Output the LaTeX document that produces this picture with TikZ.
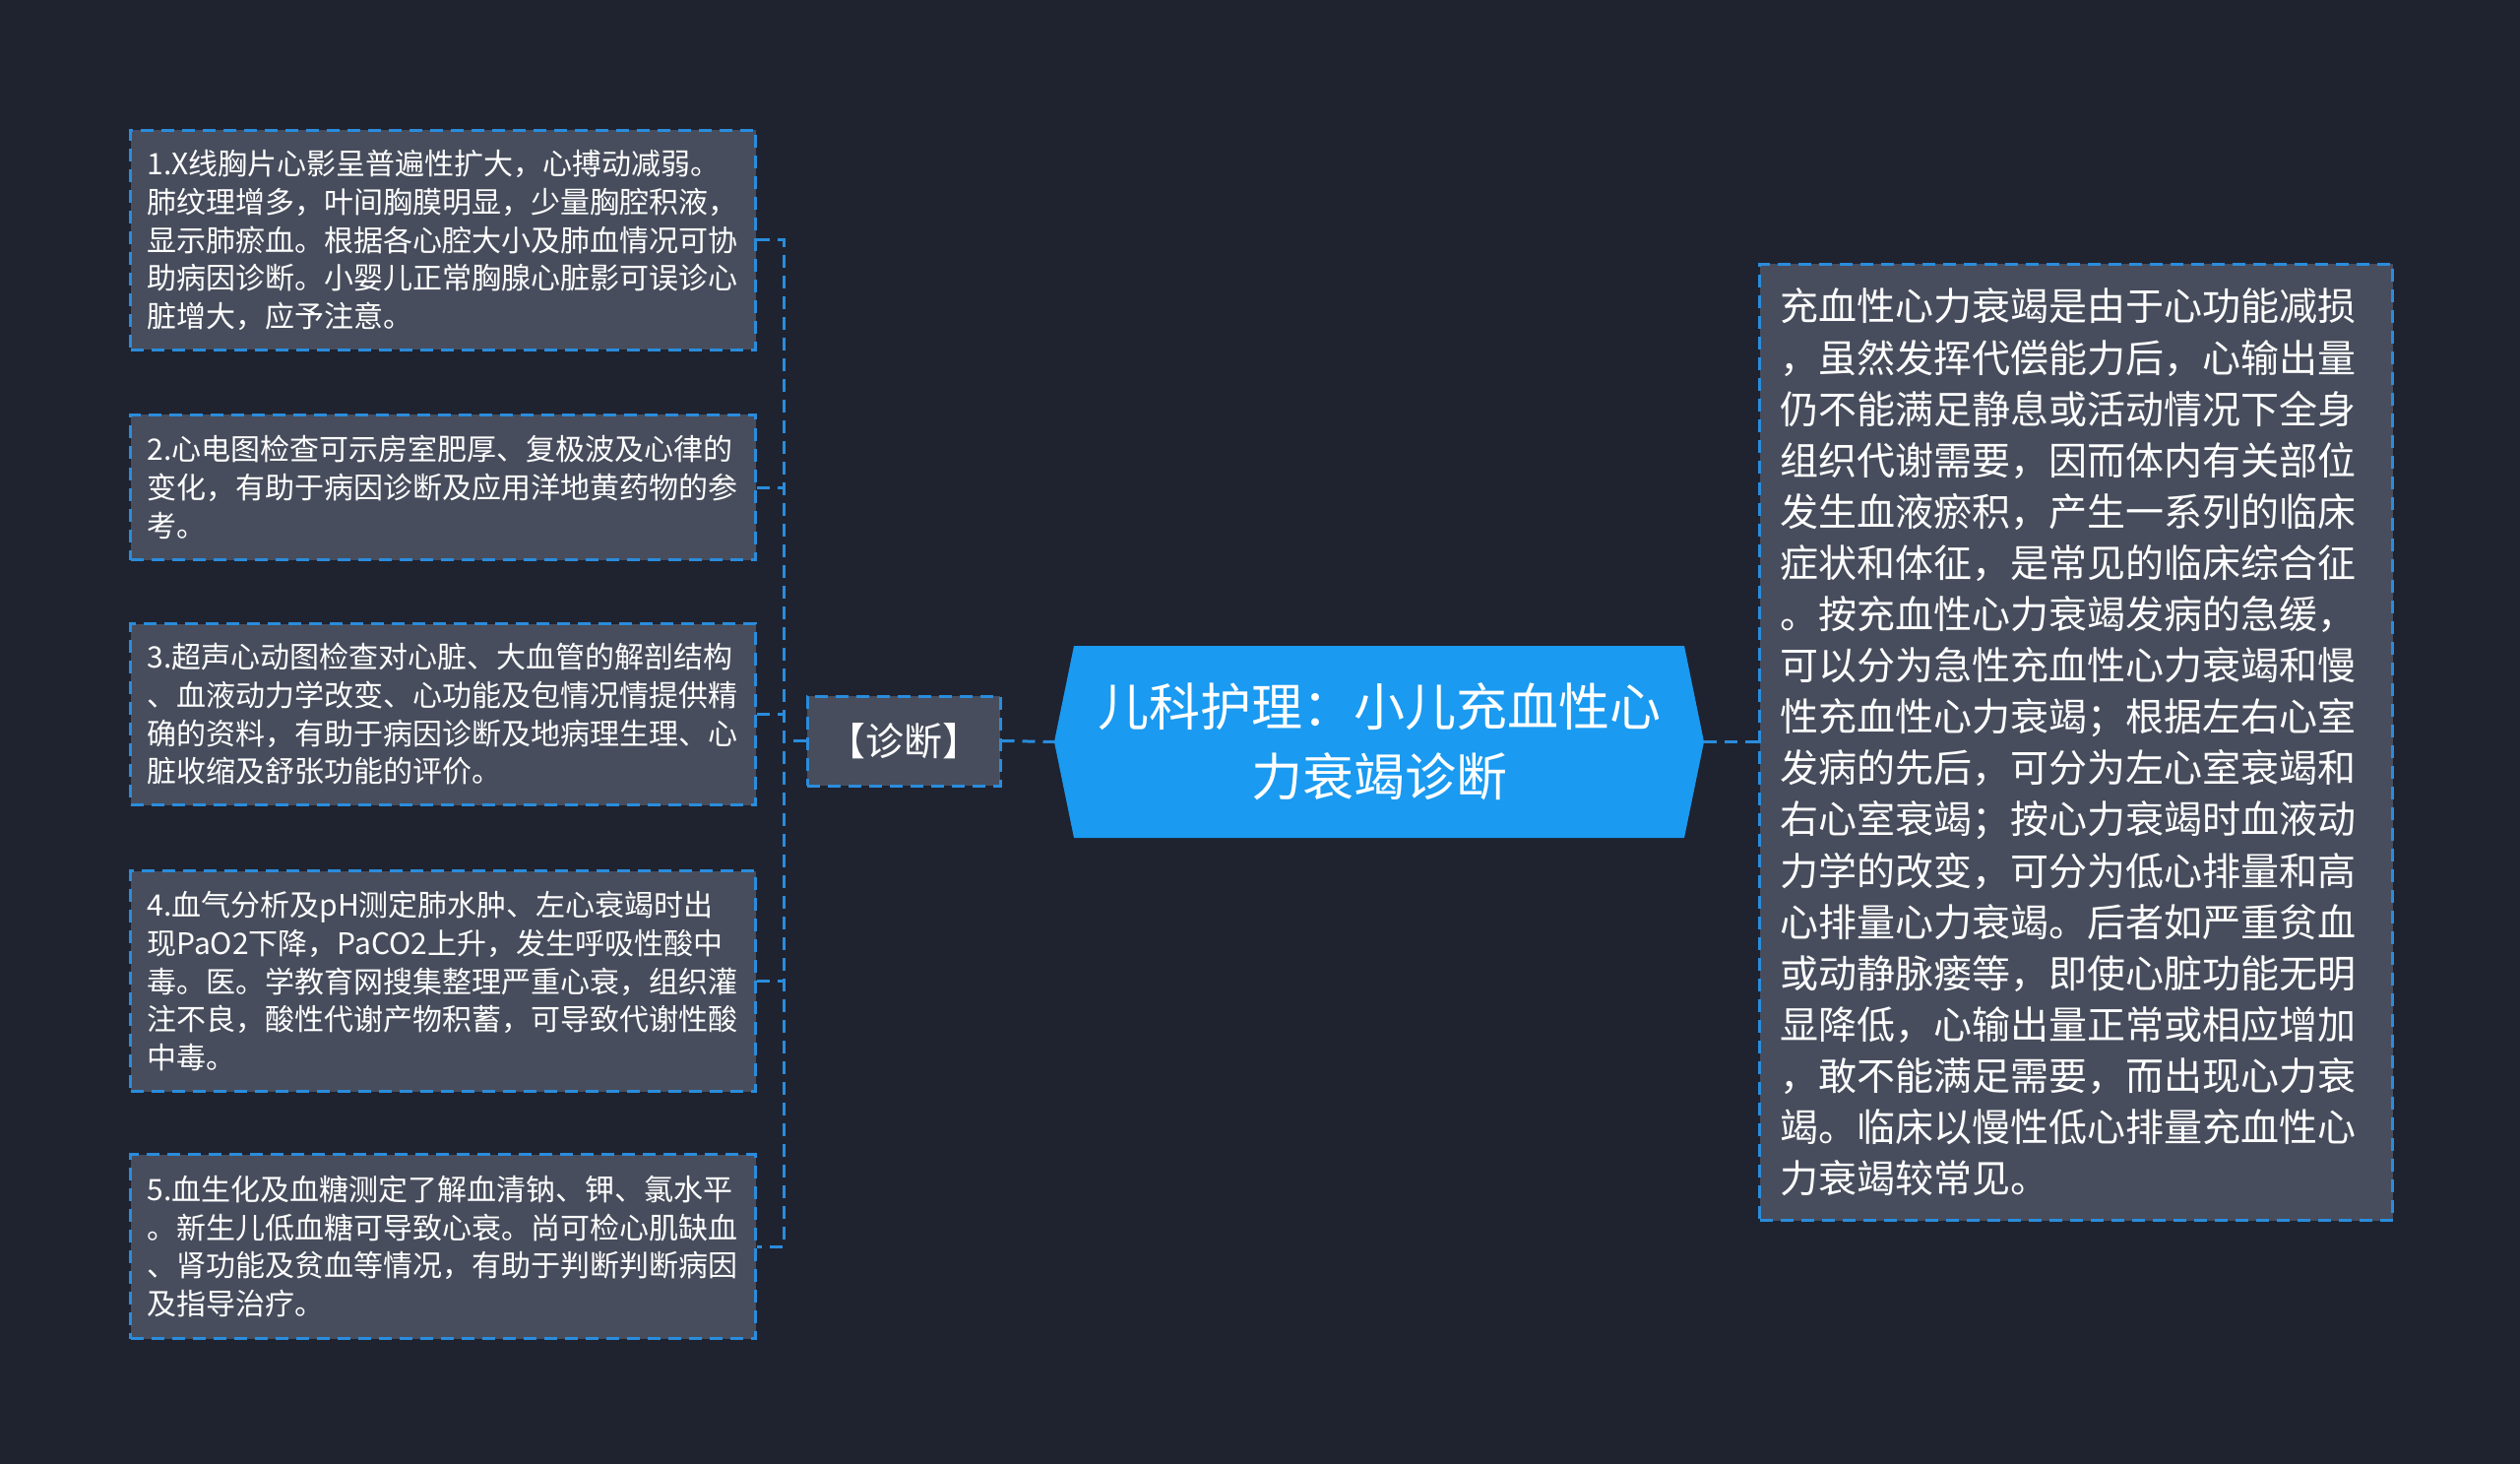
\documentclass[tikz,border=0pt]{standalone}
\usepackage{fontspec}
\setmainfont{Noto Sans CJK SC}
\definecolor{bgc}{HTML}{1F2330}
\definecolor{boxc}{HTML}{474D5C}
\definecolor{linec}{HTML}{2A8CDC}
\definecolor{mainc}{HTML}{1A9AF0}
\tikzset{
  conn/.style={draw=linec, line width=3pt, dash pattern=on 13pt off 8pt},
  leaf/.style={draw=linec, fill=boxc, line width=3pt, dash pattern=on 13pt off 8pt,
    text=white, align=left, text width=601pt, inner xsep=17pt, inner ysep=0pt,
    anchor=north west, font=\fontsize{30pt}{38.7pt}\selectfont},
  diag/.style={draw=linec, fill=boxc, line width=3pt, dash pattern=on 13pt off 8pt,
    text=white, minimum width=196pt, minimum height=91pt, inner sep=0pt,
    font=\fontsize{39pt}{46pt}\selectfont},
  rbox/.style={draw=linec, fill=boxc, line width=3pt, dash pattern=on 13pt off 8pt,
    text=white, align=left, text width=601pt, inner xsep=21pt, inner ysep=0pt,
    anchor=north west, font=\fontsize{39pt}{52.1pt}\selectfont},
}
\begin{document}
\begin{tikzpicture}[x=1pt,y=-1pt]
\useasboundingbox (0,0) rectangle (2560,1487);
\fill[bgc] (0,0) rectangle (2560,1487);

% left boxes
\node[leaf, minimum height=223pt] (b1) at (131,131) {1.X线胸片心影呈普遍性扩大，心搏动减弱。\\肺纹理增多，叶间胸膜明显，少量胸腔积液，\\显示肺瘀血。根据各心腔大小及肺血情况可协\\助病因诊断。小婴儿正常胸腺心脏影可误诊心\\脏增大，应予注意。};
\node[leaf, minimum height=147pt] (b2) at (131,420) {2.心电图检查可示房室肥厚、复极波及心律的\\变化，有助于病因诊断及应用洋地黄药物的参\\考。};
\node[leaf, minimum height=184pt] (b3) at (131,632) {3.超声心动图检查对心脏、大血管的解剖结构\\、血液动力学改变、心功能及包情况情提供精\\确的资料，有助于病因诊断及地病理生理、心\\脏收缩及舒张功能的评价。};
\node[leaf, minimum height=224pt] (b4) at (131,883) {4.血气分析及pH测定肺水肿、左心衰竭时出\\现PaO2下降，PaCO2上升，发生呼吸性酸中\\毒。医。学教育网搜集整理严重心衰，组织灌\\注不良，酸性代谢产物积蓄，可导致代谢性酸\\中毒。};
\node[leaf, minimum height=187pt] (b5) at (131,1171) {5.血生化及血糖测定了解血清钠、钾、氯水平\\。新生儿低血糖可导致心衰。尚可检心肌缺血\\、肾功能及贫血等情况，有助于判断判断病因\\及指导治疗。};

% diagnosis node
\node[diag] (d) at (918,752.5) {【诊断】};

% center node
\fill[mainc] (1071,753.5) -- (1091,656) -- (1711,656) -- (1731,753.5) -- (1711,851) -- (1091,851) -- cycle;
\node[minimum width=660pt, minimum height=195pt, inner sep=0pt, text=white, align=center,
  font=\fontsize{52pt}{71pt}\selectfont] (c) at (1401,753.5) {儿科护理：小儿充血性心\\力衰竭诊断};

% right box
\node[rbox, minimum height=971pt] (r) at (1786,267) {充血性心力衰竭是由于心功能减损\\，虽然发挥代偿能力后，心输出量\\仍不能满足静息或活动情况下全身\\组织代谢需要，因而体内有关部位\\发生血液瘀积，产生一系列的临床\\症状和体征，是常见的临床综合征\\。按充血性心力衰竭发病的急缓，\\可以分为急性充血性心力衰竭和慢\\性充血性心力衰竭；根据左右心室\\发病的先后，可分为左心室衰竭和\\右心室衰竭；按心力衰竭时血液动\\力学的改变，可分为低心排量和高\\心排量心力衰竭。后者如严重贫血\\或动静脉瘘等，即使心脏功能无明\\显降低，心输出量正常或相应增加\\，敢不能满足需要，而出现心力衰\\竭。临床以慢性低心排量充血性心\\力衰竭较常见。};

% connectors
\draw[conn] (b1.east) -- ++(27,0) coordinate (sp) -- (sp |- b5.east) -- (b5.east);
\draw[conn] (b2.east) -- (sp |- b2.east);
\draw[conn] (b3.east) -- (sp |- b3.east);
\draw[conn] (b4.east) -- (sp |- b4.east);
\draw[conn] (d.west) -- (sp |- d.west);
\draw[conn] (d.east) -- (c.west);
\draw[conn] (c.east) -- (r.west |- c.east);
\end{tikzpicture}
\end{document}
